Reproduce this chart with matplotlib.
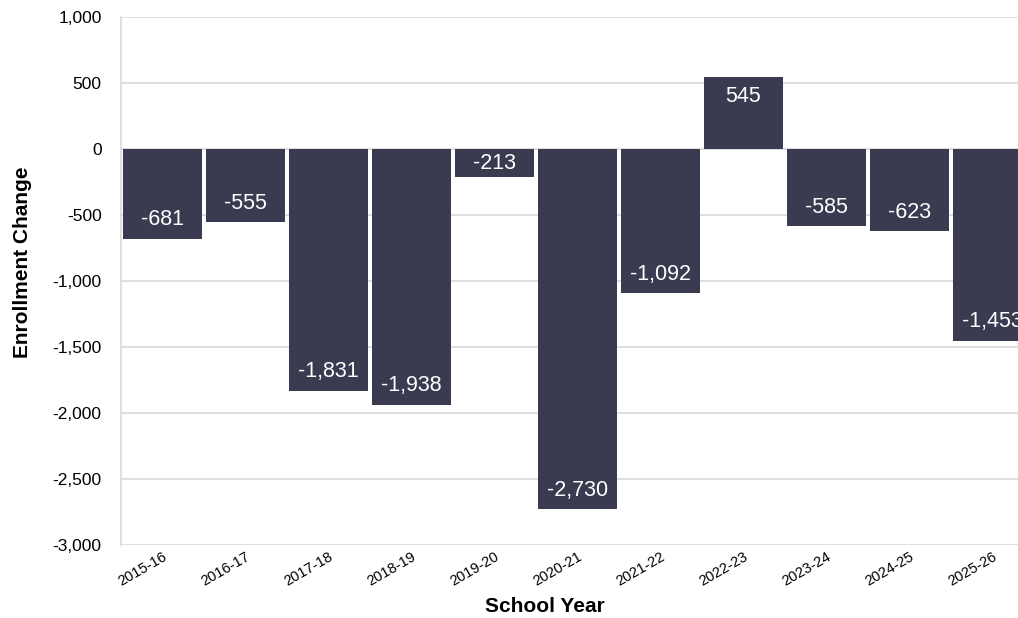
import matplotlib
matplotlib.use("Agg")
import matplotlib.pyplot as plt
from matplotlib.ticker import FuncFormatter

years = ['2015-16', '2016-17', '2017-18', '2018-19', '2019-20', '2020-21',
         '2021-22', '2022-23', '2023-24', '2024-25', '2025-26']
changes = [-681, -555, -1831, -1938, -213, -2730, -1092, 545, -585, -623, -1453]

plt.rcParams['font.family'] = ['Liberation Sans', 'DejaVu Sans']

fig = plt.figure(figsize=(10.18, 6.18), dpi=100)
# the plot runs off the right edge, like the original
ax = fig.add_axes([121 / 1018, 1 - 545 / 618, 913 / 1018, 528 / 618])

x = range(len(years))
ax.bar(x, changes, width=0.94, color='#3a3b50', zorder=3)

ax.set_xlim(-0.5, len(years) - 0.5)
ax.set_ylim(-3000, 1000)
ax.set_yticks(range(-3000, 1001, 500))
ax.yaxis.set_major_formatter(FuncFormatter(lambda v, p: f'{int(v):,}'))
ax.grid(axis='y', color='#d9d9d9', linewidth=1.2, zorder=0)
ax.tick_params(length=0, labelsize=12.5)
ax.tick_params(axis='y', pad=14)
ax.set_xticks(list(x))
ax.set_xticklabels(years, rotation=30, ha='right', rotation_mode='anchor', fontsize=10.5)
for s in ['top', 'right', 'bottom']:
    ax.spines[s].set_visible(False)
ax.spines['left'].set_color('#d9d9d9')
ax.spines['left'].set_linewidth(1.2)

ax.set_xlabel('School Year', fontsize=15, fontweight='bold')
ax.set_ylabel('Enrollment Change', fontsize=15, fontweight='bold')
ax.xaxis.set_label_coords((545 - 121) / 913, -0.098)
ax.yaxis.set_label_coords(-0.098, (545 - 262) / 528)

for i, v in enumerate(changes):
    if abs(v) < 300:
        y = v / 2
    else:
        y = v - 145 * (1 if v > 0 else -1)
    ax.text(i, y, f'{v:,}', color='white', fontsize=15.5, ha='center', va='center', zorder=4)

fig.savefig('out.png', dpi=100)
